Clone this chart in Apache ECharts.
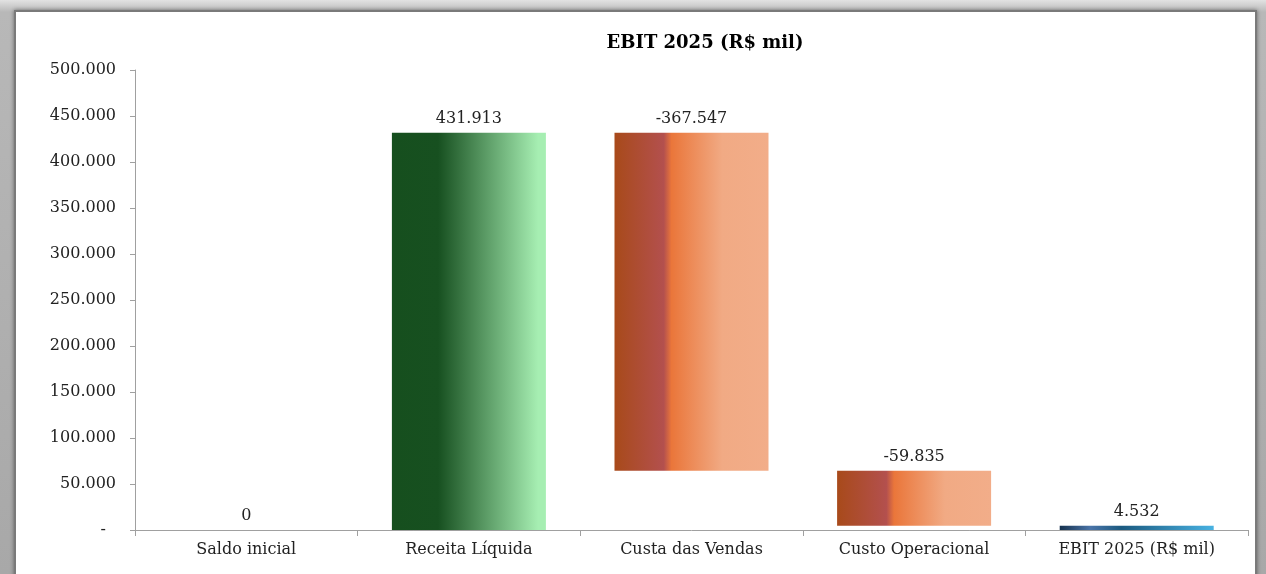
<!DOCTYPE html>
<html>
<head>
<meta charset="utf-8">
<script src="https://cdn.jsdelivr.net/npm/echarts@6/dist/echarts.min.js"></script>
<style>
  html, body { margin: 0; padding: 0; width: 1266px; height: 574px; overflow: hidden; }
  body { background: linear-gradient(#e2e2e2, #b8b8b8 12px, #a8a8a8); position: relative; }
  #frame {
    position: absolute; left: 14px; top: 10px; width: 1239px; height: 600px;
    background: #fff; border: 2px solid #7a7a7a;
    box-shadow: 0 0 4px rgba(0,0,0,0.45);
  }
  #chart { position: absolute; left: 0; top: 0; width: 1266px; height: 574px; }
</style>
</head>
<body>
<div id="frame"></div>
<div id="chart"></div>
<script>
const categories = ["Saldo inicial", "Receita Líquida", "Custa das Vendas", "Custo Operacional", "EBIT 2025 (R$ mil)"];
// signed values shown above each bar
const labelValues = [0, 431913, -367547, -59835, 4532];
// invisible base of the waterfall and visible bar height
const baseValues = [0, 0, 64366, 4531, 0];
const barValues = [0, 431913, 367547, 59835, 4532];

const FONT = "DejaVu Serif";

function fmt(v) {
  if (v === 0) return "-  ";
  const s = Math.abs(Math.round(v)).toString().replace(/\B(?=(\d{3})+(?!\d))/g, ".");
  return (v < 0 ? "-" : "") + s;
}
function fmtLabel(v) {
  if (v === 0) return "0";
  return fmt(v);
}

const grad = (stops) => new echarts.graphic.LinearGradient(0, 0, 1, 0,
  stops.map(([offset, color]) => ({ offset, color })));

const green = grad([[0, "#164f1e"], [0.3, "#175020"], [0.95, "#a6eeb2"], [1, "#a6eeb2"]]);
const orange = grad([[0, "#a84a1a"], [0.32, "#b3504e"], [0.37, "#ea763a"], [0.7, "#f1aa84"], [1, "#f2ad89"]]);
const blue = grad([[0, "#16324e"], [0.2, "#4a74a8"], [0.4, "#1b5a80"], [1, "#48b2e2"]]);
const barColors = [green, green, orange, orange, blue];

const chart = echarts.init(document.getElementById("chart"));
chart.setOption({
  animation: false,
  title: {
    text: "EBIT 2025 (R$ mil)",
    left: 700, top: 29, textAlign: "center",
    textStyle: { fontFamily: FONT, fontSize: 18, fontWeight: "bold", color: "#000" }
  },
  grid: { left: 135, right: 18, top: 70, bottom: 44 },
  xAxis: {
    type: "category",
    data: categories,
    axisLine: { lineStyle: { color: "#a0a0a0" } },
    axisTick: { show: true, length: 6, lineStyle: { color: "#a0a0a0" } },
    axisLabel: { fontFamily: FONT, fontSize: 16, color: "#222", margin: 12 }
  },
  yAxis: {
    type: "value",
    min: 0, max: 500000, interval: 50000,
    splitLine: { show: false },
    axisLine: { show: true, lineStyle: { color: "#a0a0a0" } },
    axisTick: { show: true, length: 5, lineStyle: { color: "#a0a0a0" } },
    axisLabel: { fontFamily: FONT, fontSize: 16, color: "#222", margin: 19, formatter: fmt }
  },
  series: [
    {
      type: "bar", stack: "w", barWidth: 154,
      data: baseValues,
      itemStyle: { color: "transparent" },
      silent: true
    },
    {
      type: "bar", stack: "w", barWidth: 154,
      data: barValues.map((v, i) => ({ value: v, itemStyle: { color: barColors[i] } })),
      label: {
        show: true, position: "top", distance: 6,
        fontFamily: FONT, fontSize: 16, color: "#222",
        formatter: (p) => fmtLabel(labelValues[p.dataIndex])
      }
    }
  ]
});
</script>
</body>
</html>
